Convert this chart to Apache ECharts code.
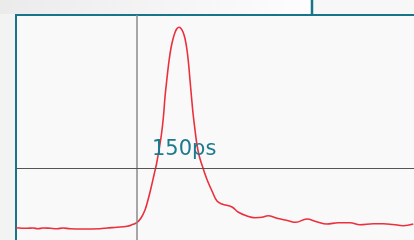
<!DOCTYPE html>
<html>
<head>
<meta charset="utf-8">
<script src="https://cdn.jsdelivr.net/npm/echarts@6/dist/echarts.min.js"></script>
<style>
  html, body { margin: 0; padding: 0; background: #f3f3f3; }
  #chart { width: 414px; height: 240px; }
</style>
</head>
<body>
<div id="chart"></div>
<script>
// pulse trace (time in ps-ish units, amplitude in screen units)
var timeAxis = [0, 6, 11, 17, 22, 27, 34, 41, 47, 54, 67, 84, 91, 101, 111, 117, 121, 125, 129, 132,
  135, 138, 140.5, 143, 145.5, 147.5, 149, 151, 153, 155, 157, 159, 161, 163, 165, 167, 169, 171,
  172.5, 174, 175.5, 177, 179, 181, 183, 185, 187, 189, 192, 196, 201, 206, 216, 222, 231, 239,
  246, 252, 261, 272, 280, 290.7, 300.7, 310.7, 322.3, 334, 344, 357.3, 367.3, 377, 387.3, 397.3];
var signal = [18.3, 17.8, 17.7, 18, 17.3, 18, 17.7, 17.3, 18, 17.3, 17, 17.3, 18, 18.7, 19.7, 21.7,
  23.5, 28, 36, 46, 58, 71, 82, 96, 112, 130, 149, 168, 185, 198, 207, 213.5, 217.5, 218.7, 217.5,
  214, 207.5, 196, 183, 166, 149, 133, 116, 101, 91, 84, 78, 72, 64, 55, 45, 42, 39, 34, 30, 28.3,
  28.7, 30.3, 27.7, 25.3, 23.7, 27, 24.3, 22, 23.3, 23.3, 21.3, 22.3, 22.3, 21.5, 20.3, 22];
var cursorTime = 121;
var cursorLevel = 78;
var cursorLabel = '150ps';

var points = timeAxis.map(function (t, i) { return [t, signal[i]]; });

var chart = echarts.init(document.getElementById('chart'));
chart.setOption({
  animation: false,
  backgroundColor: '#f3f3f3',
  grid: {
    show: true,
    outerBoundsMode: 'none',
    left: 16, top: 15, width: 404, height: 231,
    backgroundColor: '#f9f9f9',
    borderColor: '#187488',
    borderWidth: 2
  },
  xAxis: { type: 'value', min: 0, max: 404, show: false },
  yAxis: { type: 'value', min: 0, max: 231, show: false },
  graphic: [
    {
      type: 'rect', shape: { x: 0, y: 0, width: 311, height: 14 }, silent: true,
      style: {
        fill: new echarts.graphic.LinearGradient(0, 0, 1, 0, [
          { offset: 0, color: '#ebebeb' }, { offset: 1, color: '#fdfdfd' }
        ])
      }
    },
    { type: 'rect', shape: { x: 313, y: 0, width: 101, height: 14 }, silent: true, style: { fill: '#f7f7f7' } },
    { type: 'line', shape: { x1: 312, y1: 0, x2: 312, y2: 14 }, silent: true, style: { stroke: '#187488', lineWidth: 2.5 } },
    {
      type: 'text', x: 152, y: 150, z: 10, silent: true,
      style: {
        text: cursorLabel, fill: '#1b7a8e',
        font: '21px "DejaVu Sans"', verticalAlign: 'middle'
      }
    }
  ],
  series: [{
    type: 'line',
    data: points,
    smooth: 0.4,
    symbol: 'none',
    lineStyle: { color: '#ec2f3d', width: 1.6 },
    markLine: {
      silent: true,
      symbol: 'none',
      label: { show: false },
      data: [
        { xAxis: cursorTime, lineStyle: { color: '#8a8a8a', width: 1.5, type: 'solid' } },
        { yAxis: cursorLevel, lineStyle: { color: '#555555', width: 1.2, type: 'solid' } }
      ]
    }
  }]
});
</script>
</body>
</html>
